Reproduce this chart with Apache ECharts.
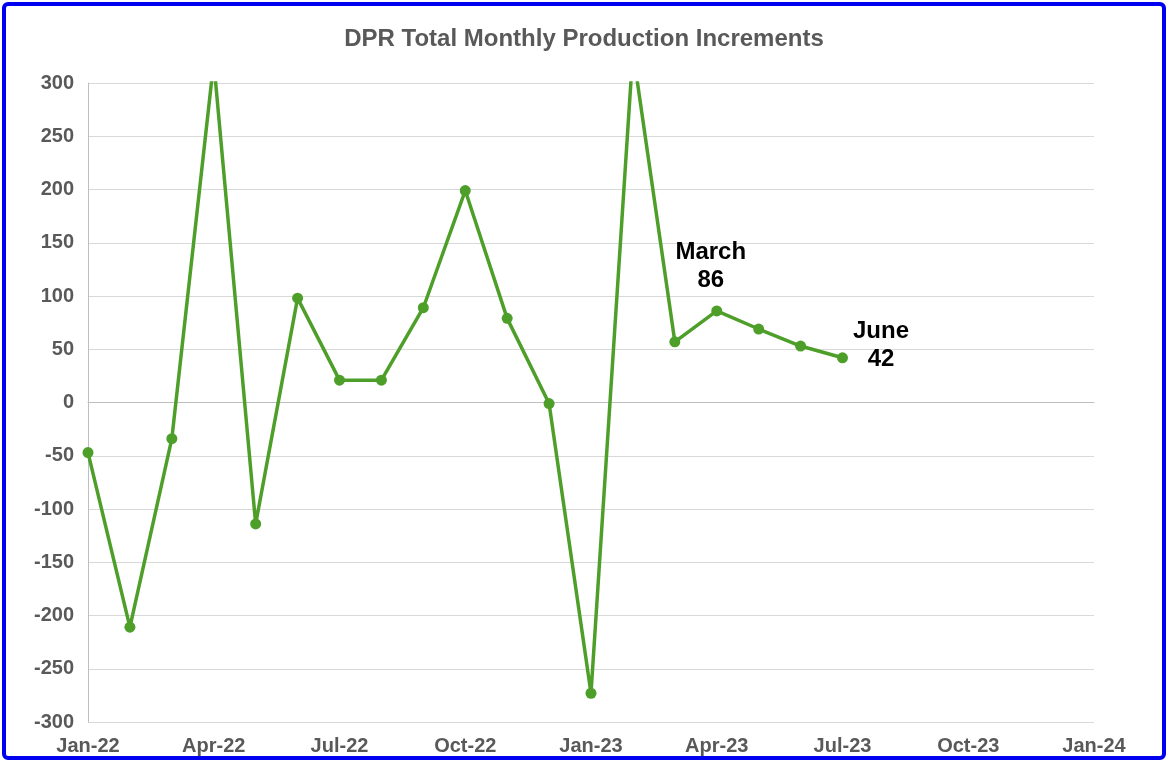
<!DOCTYPE html>
<html><head><meta charset="utf-8">
<script src="https://cdn.jsdelivr.net/npm/echarts@6/dist/echarts.min.js"></script>
<style>html,body{margin:0;padding:0;background:#fff}
#c{position:absolute;left:2px;top:2px;width:1156px;height:750px;border:4px solid #0000f0;border-radius:6px;box-sizing:content-box}</style>
</head><body><div id="c"></div>
<script>
const tickLabels=['Jan-22','Apr-22','Jul-22','Oct-22','Jan-23','Apr-23','Jul-23','Oct-23','Jan-24'];
const axisMonths=['Jan-22','Feb-22','Mar-22','Apr-22','May-22','Jun-22','Jul-22','Aug-22','Sep-22','Oct-22','Nov-22','Dec-22','Jan-23','Feb-23','Mar-23','Apr-23','May-23','Jun-23','Jul-23','Aug-23','Sep-23','Oct-23','Nov-23','Dec-23','Jan-24'];
const values=[-47,-211,-34,320,-114,98,21,21,89,199,79,-1,-273,330,57,86,69,53,42];
const chart=echarts.init(document.getElementById('c'));
const data=values.map((v,i)=>{
  const d={value:v};
  if(axisMonths[i]==='Apr-23') d.label={show:true,formatter:'March\n86',position:'top',offset:[-6,-6]};
  if(axisMonths[i]==='Jul-23') d.label={show:true,formatter:'June\n42',position:'right',offset:[28,-12],align:'center'};
  return d;});
chart.setOption({
  animation:false,
  title:{text:'DPR Total Monthly Production Increments',left:'center',top:16,textStyle:{fontFamily:'Liberation Sans',fontSize:24,fontWeight:'bold',color:'#595959'}},
  grid:{left:82,right:68,top:77,bottom:30},
  xAxis:{type:'category',data:axisMonths,boundaryGap:false,axisLine:{onZero:true,lineStyle:{color:'#bfbfbf',width:1}},axisTick:{show:false},splitLine:{show:false},
    axisLabel:{interval:2,fontFamily:'Liberation Sans',fontSize:20,fontWeight:'bold',color:'#595959',margin:14,formatter:v=>tickLabels.includes(v)?v:''}},
  yAxis:{type:'value',min:-300,max:300,interval:50,axisLine:{show:true,lineStyle:{color:'#bfbfbf'}},axisTick:{show:false},
    splitLine:{lineStyle:{color:'#d9d9d9'}},axisLabel:{fontFamily:'Liberation Sans',fontSize:20,fontWeight:'bold',color:'#595959',margin:14}},
  series:[{type:'line',data:data,clip:true,symbol:'circle',symbolSize:11,lineStyle:{color:'#4e9f2a',width:3.5},itemStyle:{color:'#4e9f2a'},
    label:{show:false,fontFamily:'Liberation Sans',fontSize:24,fontWeight:'bold',color:'#000',lineHeight:28}}]
});
</script></body></html>
